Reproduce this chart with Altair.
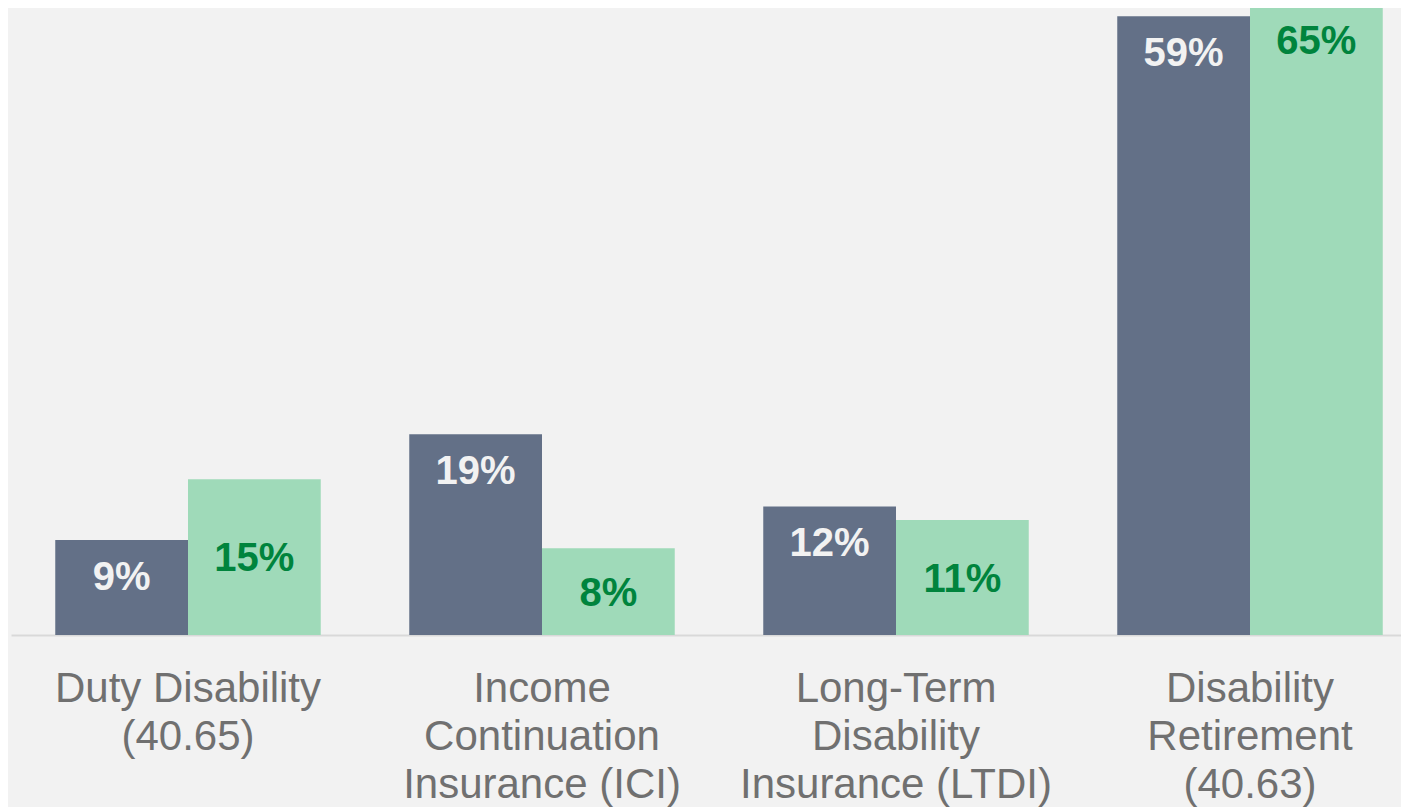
import altair as alt
import pandas as pd

categories = ["Duty Disability\n(40.65)", "Income\nContinuation\nInsurance (ICI)",
              "Long-Term\nDisability\nInsurance (LTDI)", "Disability\nRetirement\n(40.63)"]
series = ["A", "B"]
values_a = [9.1, 19.2, 12.3, 59.2]
values_b = [14.9, 8.3, 11.0, 65.0]
labels_a = ["9%", "19%", "12%", "59%"]
labels_b = ["15%", "8%", "11%", "65%"]

YMAX = 60

rows = []
for i, c in enumerate(categories):
    rows.append({"cat": c, "series": "A", "value": values_a[i], "label": labels_a[i]})
    rows.append({"cat": c, "series": "B", "value": values_b[i], "label": labels_b[i]})
df = pd.DataFrame(rows)

xenc = alt.X("cat:N", sort=categories, title=None,
             scale=alt.Scale(paddingInner=0.25, paddingOuter=0.125, range=[0, 1416]),
             axis=alt.Axis(labelAngle=0, labelFontSize=42, labelFont="Liberation Sans",
                           labelColor="#707070", labelLineHeight=48, labelPadding=33,
                           labelLimit=1000,
                           ticks=False, tickSize=0, domainColor="#d9d9d9", domainWidth=2,
                           labelExpr="split(datum.label, '\\n')", labelBaseline="top",
                           grid=False))
yscale = alt.Scale(domain=[0, YMAX], nice=False, zero=True)
xoff = alt.XOffset("series:N", sort=series)

bars = alt.Chart(df).mark_bar(clip=True).encode(
    x=xenc,
    xOffset=xoff,
    y=alt.Y("value:Q", scale=yscale, axis=None),
    color=alt.Color("series:N", scale=alt.Scale(domain=series, range=["#637087", "#9fdab9"]), legend=None),
)

text_a = alt.Chart(df).transform_filter("datum.series == 'A'").mark_text(
    font="Liberation Sans", fontSize=40, fontWeight="bold", color="#f2f2f2",
    baseline="middle", dy=38
).encode(
    x=xenc, xOffset=xoff,
    y=alt.Y("value:Q", scale=yscale, axis=None),
    text="label:N",
)

text_b = alt.Chart(df).transform_filter("datum.series == 'B'").transform_calculate(
    pos=f"datum.value > {YMAX} ? {YMAX} - 3.1 : datum.value / 2"
).mark_text(
    font="Liberation Sans", fontSize=40, fontWeight="bold", color="#00843d",
    baseline="middle", dy=2
).encode(
    x=xenc, xOffset=xoff,
    y=alt.Y("pos:Q", scale=yscale, axis=None),
    text="label:N",
)

chart = alt.layer(bars, text_a, text_b).properties(
    width=1390, height=627,
    autosize=alt.AutoSizeParams(type="none"),
    padding={"left": 3, "top": 0, "right": 0, "bottom": 180},
    background="#f2f2f2",
).configure_view(stroke=None)

chart.save("out.html", embed_options={"renderer": "svg", "actions": False})
